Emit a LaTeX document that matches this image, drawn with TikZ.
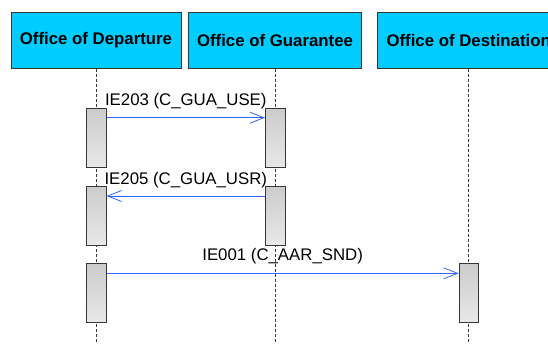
\documentclass[tikz,border=0pt]{standalone}
\usepackage{fontspec}
\setmainfont{Liberation Sans}
\usetikzlibrary{arrows.meta}
\definecolor{officecyan}{RGB}{0,204,255}
\definecolor{msgblue}{RGB}{51,102,255}
\definecolor{lineslate}{RGB}{55,55,55}
\definecolor{actlight}{RGB}{232,232,232}
\definecolor{actdark}{RGB}{204,204,204}

\begin{document}
\begin{tikzpicture}[x=1pt,y=-1pt,
  every node/.style={font=\fontsize{16.8}{18}\selectfont,inner sep=0pt},
  office/.style={draw=lineslate,line width=0.9pt,fill=officecyan,minimum height=55.6pt,font=\fontsize{16.8}{18}\selectfont\bfseries},
  lifeline/.style={lineslate,line width=0.8pt,dash pattern=on 3pt off 2pt},
  actbox/.style={draw=lineslate,line width=1pt,top color=actdark,bottom color=actlight,minimum width=19.5pt,minimum height=58.5pt,anchor=north},
  msg/.style={msgblue,line width=0.8pt,-{Straight Barb[length=14pt,width=11pt]}}]
\clip (0,0) rectangle (548,345);
\fill[white] (0,0) rectangle (548,345);
\node[office,minimum width=170pt] (dep) at (96,40.5) {Office of Departure};
\node[office,minimum width=173.4pt] (gua) at (275,40.5) {Office of Guarantee};
\node[office,minimum width=182.8pt] (dst) at (468.7,40.5) {Office of Destination};
\coordinate (foot) at (0,343);
\draw[lifeline] (dep.south) -- (dep.south |- foot);
\draw[lifeline] (gua.south) -- (gua.south |- foot);
\draw[lifeline] (dst.south) -- (dst.south |- foot);
\node[actbox] (dep1) at (96.3,108.3) {};
\node[actbox] (gua1) at (275.3,108.3) {};
\node[actbox] (dep2) at (96.3,186) {};
\node[actbox] (gua2) at (275.3,186) {};
\node[actbox] (dep3) at (96.3,263.3) {};
\node[actbox] (dst3) at (469,263.3) {};
\draw[msg] ([yshift=-9.4pt]dep1.north east) -- ([yshift=-9.4pt]gua1.north west)
  node[midway,anchor=base,yshift=12pt,text=black] {IE203 (C\_GUA\_USE)};
\draw[msg] ([yshift=-10pt]gua2.north west) -- ([yshift=-10pt]dep2.north east)
  node[midway,anchor=base,yshift=12pt,text=black] {IE205 (C\_GUA\_USR)};
\draw[msg] ([yshift=-10pt]dep3.north east) -- ([yshift=-10pt]dst3.north west)
  node[midway,anchor=base,yshift=12.6pt,text=black] {IE001 (C\_AAR\_SND)};
\end{tikzpicture}
\end{document}
